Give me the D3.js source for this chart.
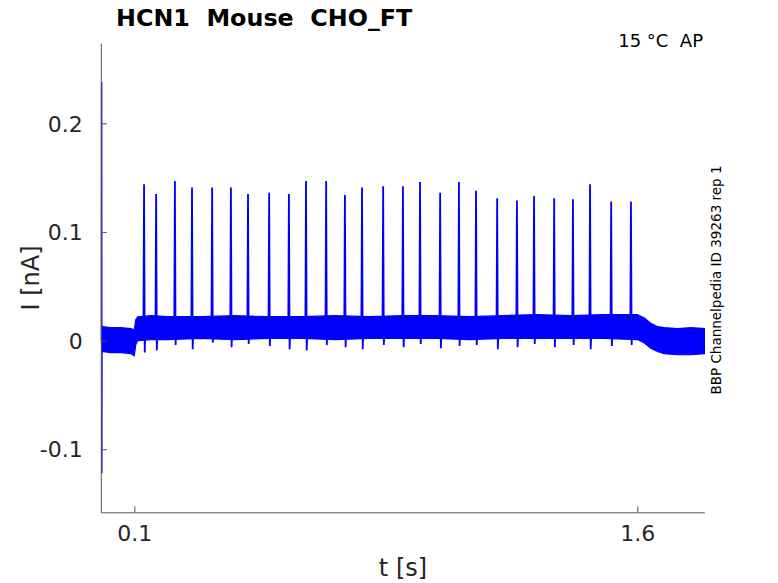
<!DOCTYPE html>
<html>
<head>
<meta charset="utf-8">
<script src="https://cdn.jsdelivr.net/npm/d3@7"></script>
<style>
  body { margin: 0; background: #fff; }
  svg { display: block; font-family: "DejaVu Sans", sans-serif; }
</style>
</head>
<body>
<svg id="chart" width="778" height="583"></svg>
<script>
// noise band of the recorded current (upper / lower edge, nA)
const bandT  = [0.003, 0.03, 0.06, 0.09, 0.100, 0.104, 0.11, 0.15, 0.2, 0.3, 0.4, 0.5, 0.6, 0.7, 0.8, 0.9, 1.0, 1.1, 1.2, 1.3, 1.4, 1.5, 1.6, 1.62, 1.64, 1.66, 1.68, 1.72, 1.76, 1.8];
const bandHi = [0.013, 0.012, 0.012, 0.011, 0.010, 0.019, 0.022, 0.023, 0.022, 0.022, 0.023, 0.022, 0.022, 0.023, 0.022, 0.023, 0.023, 0.022, 0.023, 0.024, 0.023, 0.024, 0.024, 0.021, 0.016, 0.013, 0.012, 0.011, 0.012, 0.011];
const bandLo = [-0.010, -0.011, -0.011, -0.012, -0.014, -0.004, 0.000, 0.001, 0.001, 0.002, 0.001, 0.002, 0.002, 0.001, 0.002, 0.002, 0.002, 0.001, 0.002, 0.002, 0.002, 0.002, 0.001, -0.002, -0.007, -0.010, -0.012, -0.013, -0.013, -0.012];

// action potential currents
const spikeT = [0.129, 0.165, 0.221, 0.272, 0.332, 0.388, 0.439, 0.502, 0.561, 0.612, 0.672, 0.728, 0.779, 0.842,
                0.901, 0.952, 1.012, 1.068, 1.119, 1.182, 1.241, 1.292, 1.352, 1.408, 1.459, 1.522, 1.581];
const spikePeak = [0.144, 0.135, 0.147, 0.141, 0.141, 0.141, 0.135, 0.136, 0.135, 0.147, 0.147, 0.134, 0.141, 0.142,
                   0.142, 0.146, 0.136, 0.146, 0.138, 0.131, 0.129, 0.133, 0.131, 0.130, 0.144, 0.128, 0.128];
const spikeTrough = [-0.011, -0.009, -0.004, -0.008, -0.002, -0.006, -0.003, -0.005, -0.008, -0.009, -0.004, -0.006, -0.008, -0.004,
                     -0.006, -0.003, -0.007, -0.005, -0.004, -0.008, -0.006, -0.003, -0.006, -0.004, -0.008, -0.005, -0.004];

// capacitive transient at the start
const onsetT = [0.002, 0.0025, 0.003, 0.0035, 0.004];
const onsetI = [0.0, 0.238, -0.122, 0.012, 0.0];

const xTicks = [0.1, 1.6];
const yTicks = [-0.1, 0, 0.1, 0.2];

const svg = d3.select("#chart");
const x = d3.scaleLinear().domain([0, 1.8]).range([100.8, 704.4]);
const y = d3.scaleLinear().domain([-0.158, 0.2739]).range([512.3, 43]);
const blue = "#0000ff";

const band = bandT.map((t, i) => ({ t, hi: bandHi[i], lo: bandLo[i] }));

svg.append("path")
    .datum(band)
    .attr("fill", blue)
    .attr("stroke", blue)
    .attr("stroke-width", 1.2)
    .attr("d", d3.area().x(d => x(d.t)).y0(d => y(d.lo)).y1(d => y(d.hi)));

const line = d3.line().x(d => x(d[0])).y(d => y(d[1]));

svg.append("g").selectAll("path")
    .data(spikeT.map((t, i) => [
        [t - 0.002, 0.01],
        [t, spikePeak[i]],
        [t + 0.002, spikeTrough[i]],
        [t + 0.004, 0.01]
    ]))
    .join("path")
    .attr("fill", "none")
    .attr("stroke", blue)
    .attr("stroke-width", 1.8)
    .attr("d", line);

svg.append("path")
    .datum(onsetT.map((t, i) => [t, onsetI[i]]))
    .attr("fill", "none")
    .attr("stroke", blue)
    .attr("stroke-width", 1.5)
    .attr("d", line);

// axes
const axisColor = "#555";
const gx = svg.append("g")
    .attr("transform", "translate(0,512.3)")
    .call(d3.axisBottom(x).tickValues(xTicks).tickFormat(d => String(d)).tickSizeInner(-6).tickSizeOuter(0).tickPadding(13));
const gy = svg.append("g")
    .attr("transform", "translate(100.8,0)")
    .call(d3.axisLeft(y).tickValues(yTicks).tickFormat(d => String(d)).tickSizeInner(-6).tickSizeOuter(0).tickPadding(18));

[gx, gy].forEach(g => {
    g.select(".domain").attr("stroke", axisColor);
    g.selectAll(".tick line").attr("stroke", axisColor);
    g.selectAll(".tick text")
        .attr("fill", "#262626")
        .style("font-size", "22px")
        .style("font-family", "DejaVu Sans, sans-serif");
});
gy.selectAll(".tick text").attr("dy", "0.35em");

// labels
svg.append("text")
    .attr("x", 116).attr("y", 26)
    .style("font-size", "23.8px").style("font-weight", "bold")
    .attr("fill", "#000")
    .attr("xml:space", "preserve")
    .text("HCN1  Mouse  CHO_FT");

svg.append("text")
    .attr("x", 703).attr("y", 47)
    .attr("text-anchor", "end")
    .style("font-size", "18px")
    .attr("fill", "#000")
    .attr("xml:space", "preserve")
    .text("15 °C  AP");

svg.append("text")
    .attr("transform", "translate(39,278) rotate(-90)")
    .attr("text-anchor", "middle")
    .style("font-size", "24px")
    .attr("fill", "#262626")
    .text("I [nA]");

svg.append("text")
    .attr("x", 403).attr("y", 576)
    .attr("text-anchor", "middle")
    .style("font-size", "24px")
    .attr("fill", "#262626")
    .text("t [s]");

svg.append("text")
    .attr("transform", "translate(721,280) rotate(-90)")
    .attr("text-anchor", "middle")
    .style("font-size", "13.5px")
    .attr("fill", "#000")
    .text("BBP Channelpedia ID 39263 rep 1");
</script>
</body>
</html>
